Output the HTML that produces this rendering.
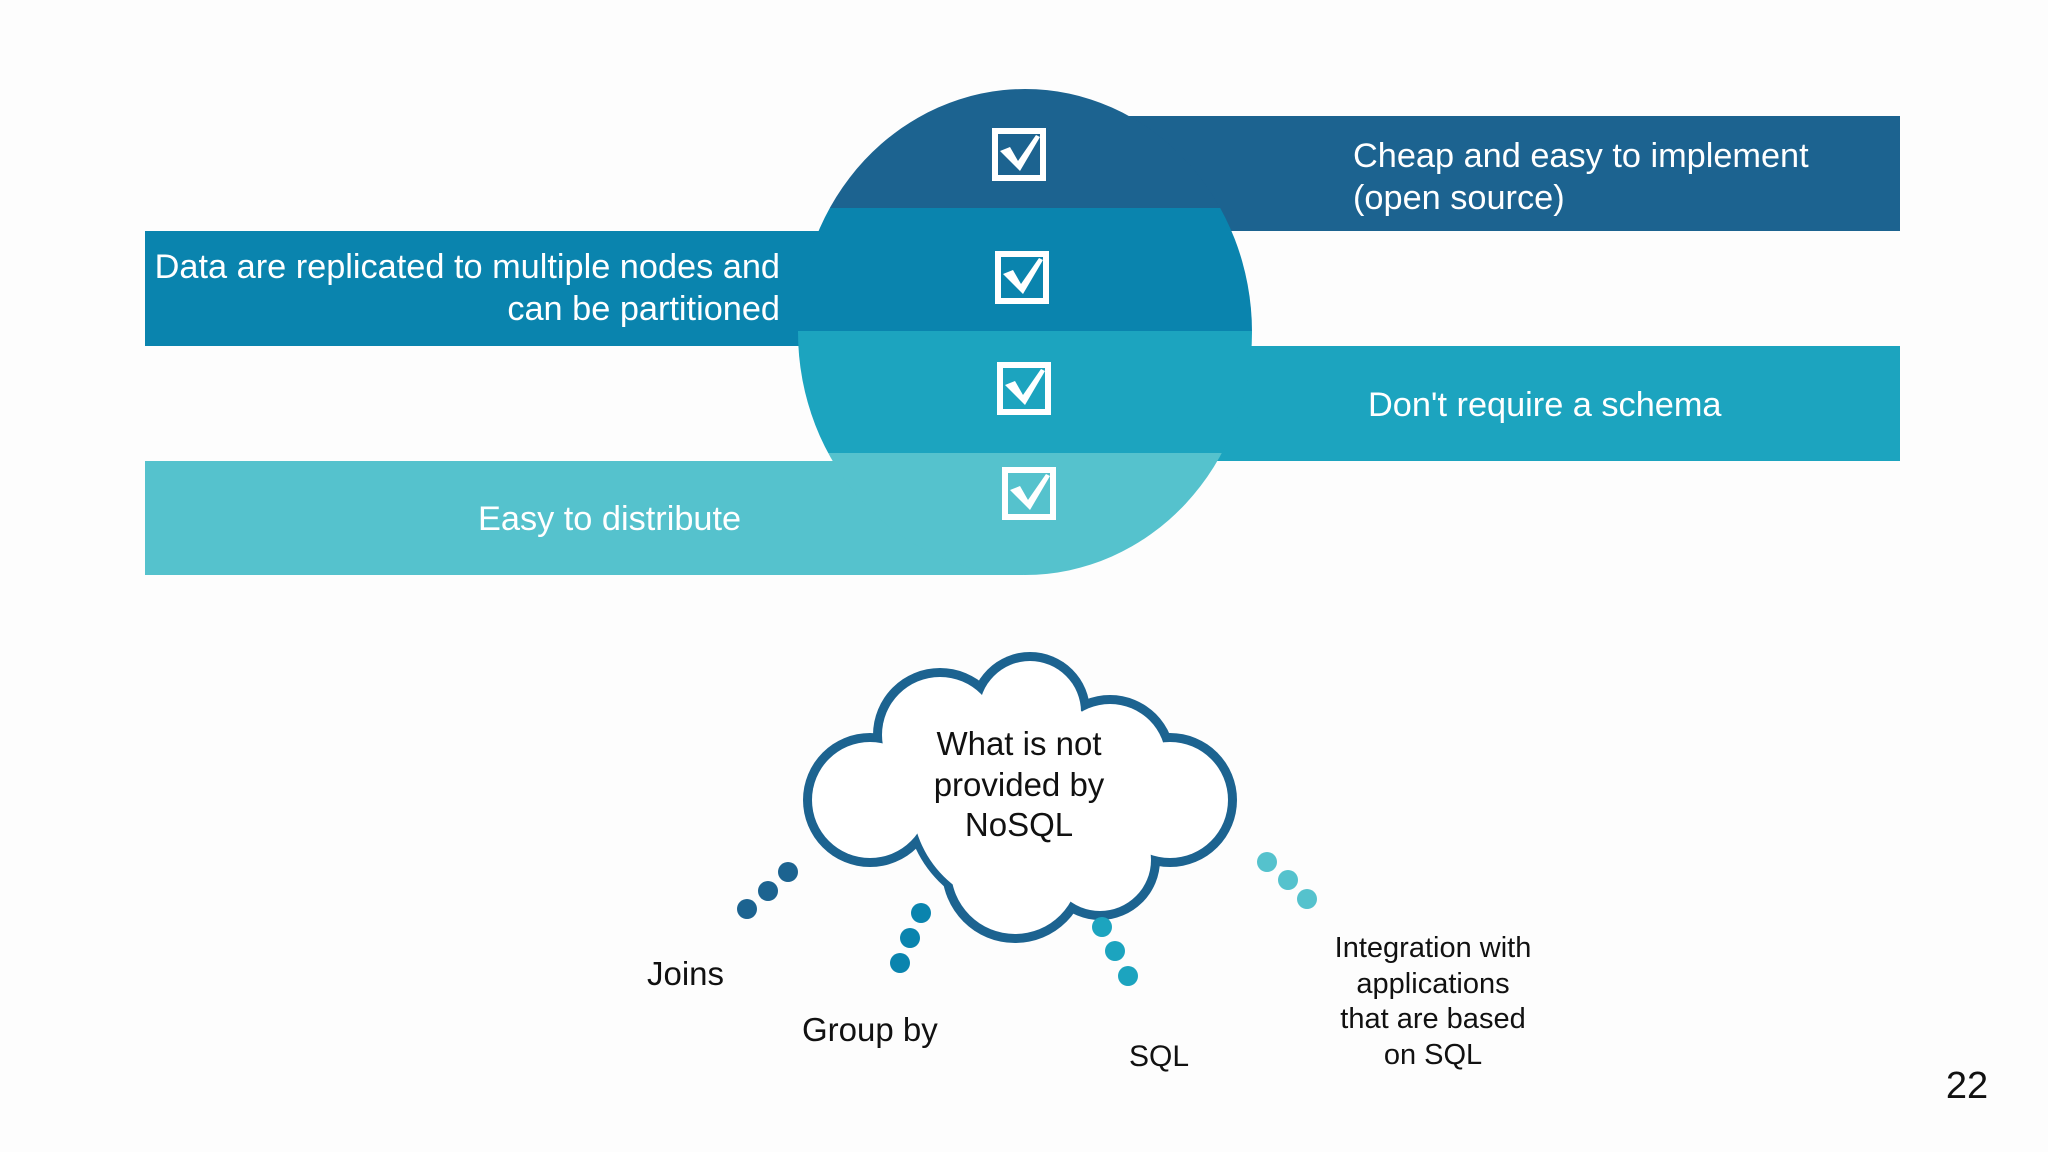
<!DOCTYPE html>
<html><head><meta charset="utf-8"><style>
html,body{margin:0;padding:0;background:#fdfdfd;}
svg{display:block;}
text{font-family:"Liberation Sans",sans-serif;}
</style></head><body>
<svg width="2048" height="1152" viewBox="0 0 2048 1152" xmlns="http://www.w3.org/2000/svg">
<rect width="2048" height="1152" fill="#fdfdfd"/>
<defs>
<clipPath id="c"><ellipse cx="1025" cy="332" rx="227" ry="243"/></clipPath>
</defs>
<!-- bands -->
<rect x="1025" y="116" width="875" height="115" fill="#1c6390"/>
<rect x="145" y="231" width="880" height="115" fill="#0a84ae"/>
<rect x="1025" y="346" width="875" height="115" fill="#1ca4bf"/>
<rect x="145" y="461" width="878" height="114" fill="#55c2cd"/>
<g clip-path="url(#c)">
<rect x="790" y="80" width="480" height="128" fill="#1c6390"/>
<rect x="790" y="208" width="480" height="123" fill="#0a84ae"/>
<rect x="790" y="331" width="480" height="122" fill="#1ca4bf"/>
<rect x="790" y="453" width="480" height="130" fill="#55c2cd"/>
</g>
<!-- checkboxes -->
<g fill="none" stroke="#fff" stroke-width="6">
<rect x="995" y="131" width="48" height="47"/>
<rect x="998" y="254" width="48" height="47"/>
<rect x="1000" y="365" width="48" height="47"/>
<rect x="1005" y="470" width="48" height="47"/>
</g>
<g fill="#fff">
<path d="M1000 151 l10 -4 l8 14 l18 -26 l4 2 l-20 34 z"/>
<path d="M1003 274 l10 -4 l8 14 l18 -26 l4 2 l-20 34 z"/>
<path d="M1005 385 l10 -4 l8 14 l18 -26 l4 2 l-20 34 z"/>
<path d="M1010 490 l10 -4 l8 14 l18 -26 l4 2 l-20 34 z"/>
</g>
<!-- band texts -->
<g fill="#fff" font-size="34.3">
<text x="1353" y="167">Cheap and easy to implement</text>
<text x="1353" y="209">(open source)</text>
<text x="780" y="278" text-anchor="end">Data are replicated to multiple nodes and</text>
<text x="780" y="320" text-anchor="end">can be partitioned</text>
<text x="1368" y="416">Don't require a schema</text>
<text x="478" y="530">Easy to distribute</text>
</g>
<!-- cloud -->
<g fill="#1c6390">
<circle cx="870" cy="800" r="67"/><circle cx="940" cy="735" r="67"/><circle cx="1030" cy="712" r="60"/>
<circle cx="1110" cy="760" r="65"/><circle cx="1170" cy="800" r="67"/><circle cx="1100" cy="860" r="60"/>
<circle cx="1015" cy="870" r="73"/><circle cx="1020" cy="800" r="115"/>
</g>
<g fill="#fff">
<circle cx="870" cy="800" r="58"/><circle cx="940" cy="735" r="58"/><circle cx="1030" cy="712" r="51"/>
<circle cx="1110" cy="760" r="56"/><circle cx="1170" cy="800" r="58"/><circle cx="1100" cy="860" r="51"/>
<circle cx="1015" cy="870" r="64"/><circle cx="1020" cy="800" r="108"/>
</g>
<g font-size="33" fill="#111" text-anchor="middle">
<text x="1019" y="755">What is not</text>
<text x="1019" y="796">provided by</text>
<text x="1019" y="836">NoSQL</text>
</g>
<!-- dots -->
<g fill="#1c6390"><circle cx="747" cy="909" r="10"/><circle cx="768" cy="891" r="10"/><circle cx="788" cy="872" r="10"/></g>
<g fill="#0a84ae"><circle cx="921" cy="913" r="10"/><circle cx="910" cy="938" r="10"/><circle cx="900" cy="963" r="10"/></g>
<g fill="#1ca4bf"><circle cx="1102" cy="927" r="10"/><circle cx="1115" cy="951" r="10"/><circle cx="1128" cy="976" r="10"/></g>
<g fill="#55c2cd"><circle cx="1267" cy="862" r="10"/><circle cx="1288" cy="880" r="10"/><circle cx="1307" cy="899" r="10"/></g>
<!-- labels -->
<g fill="#111" font-size="33">
<text x="647" y="985">Joins</text>
<text x="802" y="1041">Group by</text>
<text x="1129" y="1066" font-size="30">SQL</text>
</g>
<g fill="#111" font-size="29" text-anchor="middle">
<text x="1433" y="957">Integration with</text>
<text x="1433" y="993">applications</text>
<text x="1433" y="1028">that are based</text>
<text x="1433" y="1064">on SQL</text>
</g>
<text x="1967" y="1098" font-size="38" fill="#111" text-anchor="middle">22</text>
</svg>
</body></html>
